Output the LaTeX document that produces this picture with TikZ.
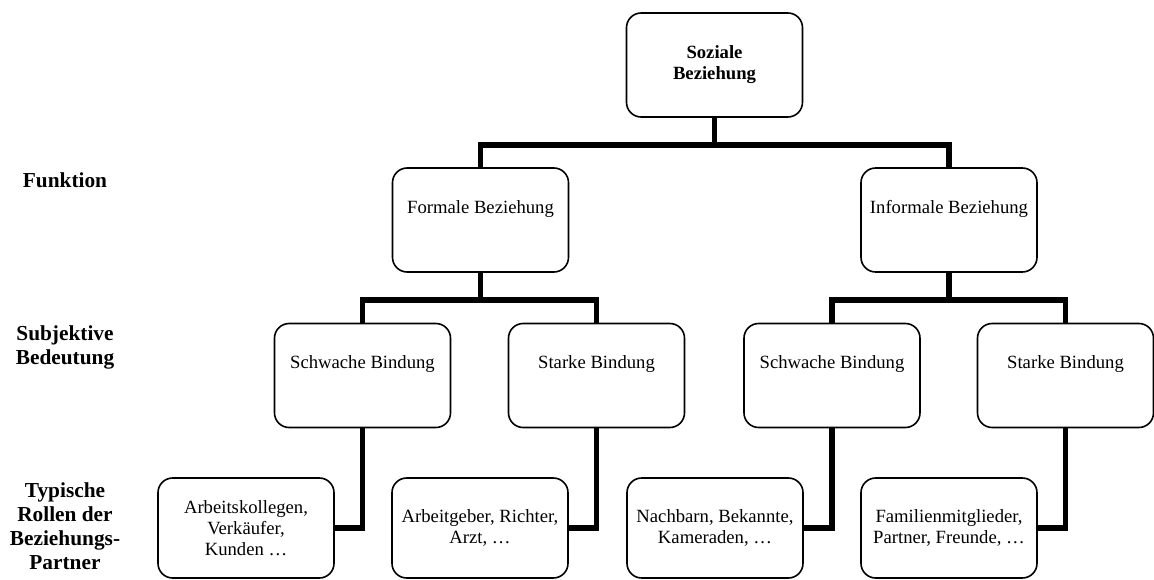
\documentclass[tikz,border=0pt]{standalone}
\usepackage{fontspec}
\setmainfont{Liberation Serif}

\begin{document}
\begin{tikzpicture}[x=0.75pt, y=-0.75pt,
    every node/.style={draw, rounded corners=11pt, line width=1.2pt, align=center, minimum width=132pt, font=\fontsize{14}{15.75}\selectfont},
    box/.style={minimum height=78pt},
    topbox/.style={minimum height=78pt, text depth=20pt},
    rolebox/.style={minimum height=75pt},
    rowlabel/.style={draw=none, minimum width=0pt, font=\fontsize{16}{18}\selectfont\bfseries},
    link/.style={line width=4pt}]
    \useasboundingbox (0,0) rectangle (1154,579);
    % Ebenen links
    \node[rowlabel] (lfunk) at (65,180) {Funktion};
    \node[rowlabel] (lsubj) at (65,347) {Subjektive\\Bedeutung};
    \node[rowlabel] (lrollen) at (65,526) {Typische\\Rollen der\\Beziehungs-\\Partner};
    % Baum
    \node[box, font=\fontsize{14}{15.75}\selectfont\bfseries] (root) at (714.5,65) {Soziale\\Beziehung};
    \node[topbox] (formal) at (480.5,220) {Formale Beziehung};
    \node[topbox] (informal) at (949,220) {Informale Beziehung};
    \node[topbox] (weak1) at (362.5,375.5) {Schwache Bindung};
    \node[topbox] (strong1) at (596.5,375.5) {Starke Bindung};
    \node[topbox] (weak2) at (832,375.5) {Schwache Bindung};
    \node[topbox] (strong2) at (1065.5,375.5) {Starke Bindung};
    \node[rolebox] (roles1) at (246,528) {Arbeitskollegen,\\Verkäufer,\\Kunden …};
    \node[rolebox] (roles2) at (480,528) {Arbeitgeber, Richter,\\Arzt, …};
    \node[rolebox] (roles3) at (715,528) {Nachbarn, Bekannte,\\Kameraden, …};
    \node[rolebox] (roles4) at (949,528) {Familienmitglieder,\\Partner, Freunde, …};
    \coordinate (bar1) at (0,145);
    \coordinate (bar2) at (0,300);
    \draw[link] (root.south) -- (root.south |- bar1);
    \draw[link] (formal.north) |- (bar1 -| informal) -- (informal.north);
    \draw[link] (formal.south) -- (formal.south |- bar2);
    \draw[link] (weak1.north) |- (bar2 -| strong1) -- (strong1.north);
    \draw[link] (informal.south) -- (informal.south |- bar2);
    \draw[link] (weak2.north) |- (bar2 -| strong2) -- (strong2.north);
    \draw[link] (weak1.south) |- (roles1.east);
    \draw[link] (strong1.south) |- (roles2.east);
    \draw[link] (weak2.south) |- (roles3.east);
    \draw[link] (strong2.south) |- (roles4.east);
\end{tikzpicture}
\end{document}
